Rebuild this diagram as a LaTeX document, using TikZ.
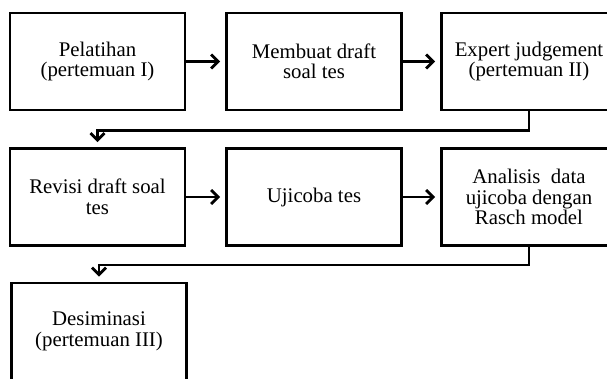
\documentclass[tikz,border=0pt]{standalone}
\usepackage{fontspec}
\setmainfont{Liberation Serif}
\usetikzlibrary{arrows.meta}
\begin{document}
\begin{tikzpicture}[x=1pt,y=1pt,
  stepbox/.style={draw, line width=2.8pt, minimum width=175pt, minimum height=97pt,
    inner sep=0pt, align=center, font=\fontsize{20.8}{20.5}\selectfont},
  arr/.style={line width=2.8pt, -{Straight Barb[length=7pt,width=14pt,line width=2.8pt]}, shorten >=5pt}]
\useasboundingbox (0,0) rectangle (607,378);
\fill[white] (0,0) rectangle (607,378);
% row 1
\node[stepbox] (b1) at (97.5,316.5) {Pelatihan\\(pertemuan I)};
\node[stepbox] (b2) at (314,316.5) {Membuat draft\\soal tes};
\node[stepbox] (b3) at (529,316.5) {Expert judgement\\(pertemuan II)};
% row 2
\node[stepbox] (b4) at (97.5,181) {Revisi draft soal\\tes};
\node[stepbox] (b5) at (314,181) {Ujicoba tes};
\node[stepbox] (b6) at (529,181) {Analisis\ \ data\\ujicoba dengan\\Rasch model};
% row 3
\node[stepbox] (b7) at (99,46.5) {Desiminasi\\(pertemuan III)};
% connectors
\draw[arr] (b1.east) -- (b2.west);
\draw[arr] (b2.east) -- (b3.west);
\draw[arr] (b4.east) -- (b5.west);
\draw[arr] (b5.east) -- (b6.west);
\draw[arr] (b3.south) -- ++(0,-19) -| (b4.north);
\draw[arr] (b6.south) -- ++(0,-18) -| (b7.north);
\end{tikzpicture}
\end{document}
